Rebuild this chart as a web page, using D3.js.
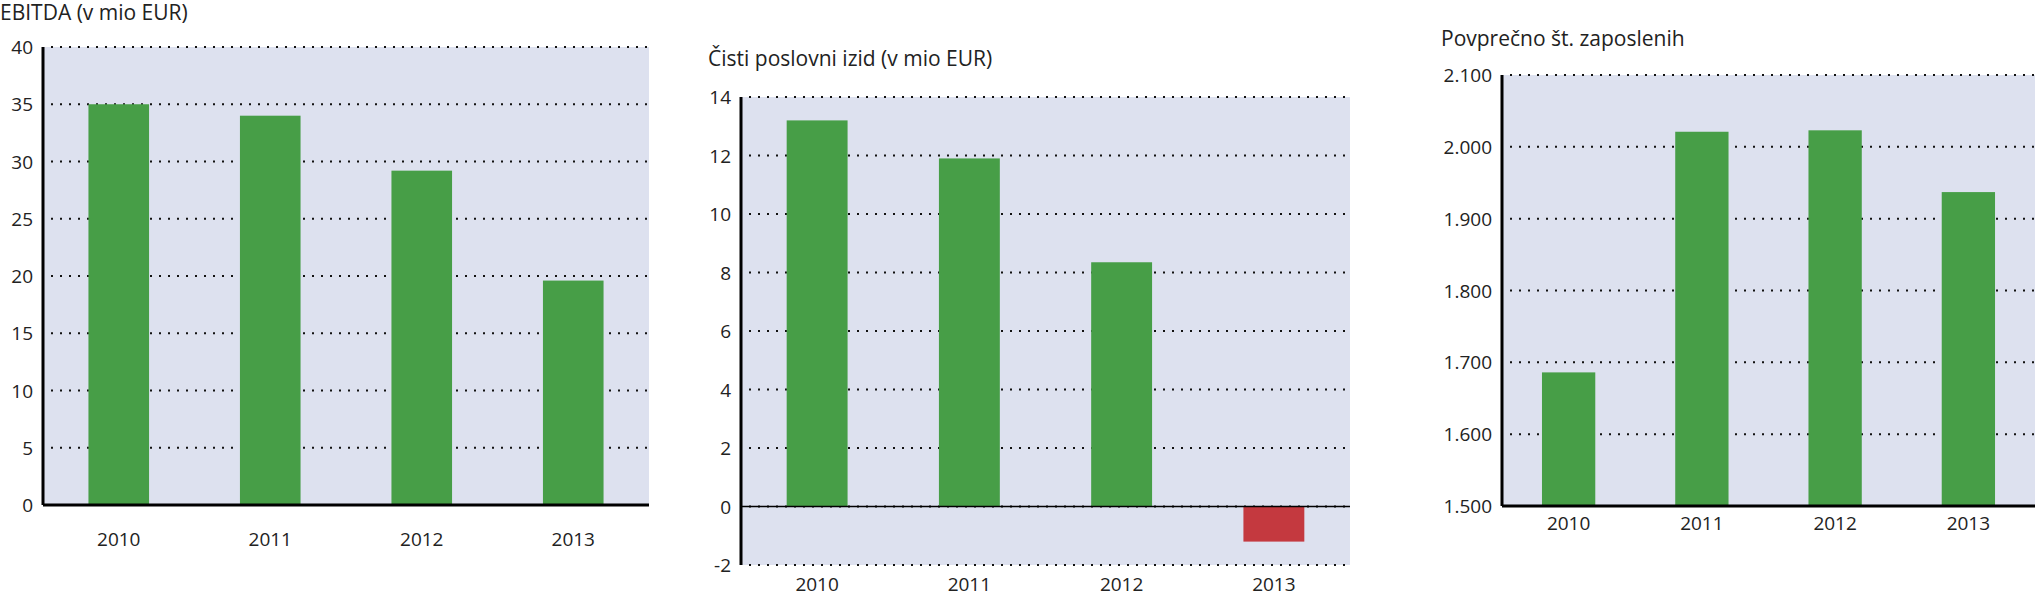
<!DOCTYPE html>
<html><head><meta charset="utf-8">
<script src="https://cdn.jsdelivr.net/npm/d3@7"></script>
<style>body{margin:0;background:#fff}text{font-family:"Open Sans",sans-serif;fill:#222}</style>
</head><body>
<script>
var years = ["2010","2011","2012","2013"];
var ebitda = [35, 34, 29.2, 19.6];
var ebitdaTicks = [0,5,10,15,20,25,30,35,40];
var netResult = [13.2, 11.9, 8.35, -1.2];
var netTicks = [-2,0,2,4,6,8,10,12,14];
var employees = [1686, 2021, 2023, 1937];
var empTicks = [1500,1600,1700,1800,1900,2000,2100];

var svg = d3.select("body").append("svg").attr("width",2035).attr("height",592);

function chart(o){
  var g = svg.append("g");
  var x = d3.scaleBand().domain(years).range([o.x0,o.x1]).paddingInner(0.6).paddingOuter(0.3);
  var y = d3.scaleLinear().domain(o.domain).range([o.y1,o.y0]);
  g.append("rect").attr("x",o.x0).attr("y",o.y0).attr("width",o.x1-o.x0).attr("height",o.y1-o.y0).attr("fill","#dde1ef");
  g.selectAll(".grid").data(o.ticks).enter().append("line")
    .attr("x1",o.x0+8).attr("x2",o.x1).attr("y1",d=>y(d)).attr("y2",d=>y(d))
    .attr("stroke","#111").attr("stroke-width",2).attr("stroke-dasharray","2,7");
  g.selectAll(".bar").data(o.values).enter().append("rect")
    .attr("x",(d,i)=>x(years[i])).attr("width",x.bandwidth())
    .attr("y",d=>y(Math.max(0,d))).attr("height",d=>Math.abs(y(d)-y(Math.max(0,o.domain[0]))))
    .attr("fill",d=>d<0?"#c4393f":"#479e47");
  g.selectAll(".yl").data(o.ticks).enter().append("text")
    .attr("x",o.x0-10).attr("y",d=>y(d)+7).attr("text-anchor","end").attr("font-size",19)
    .text(o.fmt);
  g.selectAll(".xl").data(years).enter().append("text")
    .attr("x",d=>x(d)+x.bandwidth()/2).attr("y",o.labY).attr("text-anchor","middle").attr("font-size",19).text(d=>d);
  g.append("line").attr("x1",o.x0).attr("x2",o.x0).attr("y1",o.y0).attr("y2",o.y1).attr("stroke","#000").attr("stroke-width",3);
  var base = o.domain[0] < 0 ? y(0) : o.y1;
  g.append("line").attr("x1",o.x0).attr("x2",o.x1).attr("y1",base).attr("y2",base).attr("stroke","#000").attr("stroke-width",o.domain[0]<0?1.5:3);
  g.append("text").attr("x",o.tx).attr("y",o.ty).attr("font-size",21).text(o.title);
}

chart({x0:43,x1:649,y0:47,y1:505,domain:[0,40],ticks:ebitdaTicks,values:ebitda,fmt:d=>d,labY:546,title:"EBITDA (v mio EUR)",tx:0,ty:20});
chart({x0:741,x1:1350,y0:97,y1:565,domain:[-2,14],ticks:netTicks,values:netResult,fmt:d=>d,labY:591,title:"Čisti poslovni izid (v mio EUR)",tx:708,ty:66});
chart({x0:1502,x1:2035,y0:75,y1:506,domain:[1500,2100],ticks:empTicks,values:employees,fmt:d=>d3.format(",")(d).replace(",","."),labY:530,title:"Povprečno št. zaposlenih",tx:1441,ty:46});
</script>
</body></html>
